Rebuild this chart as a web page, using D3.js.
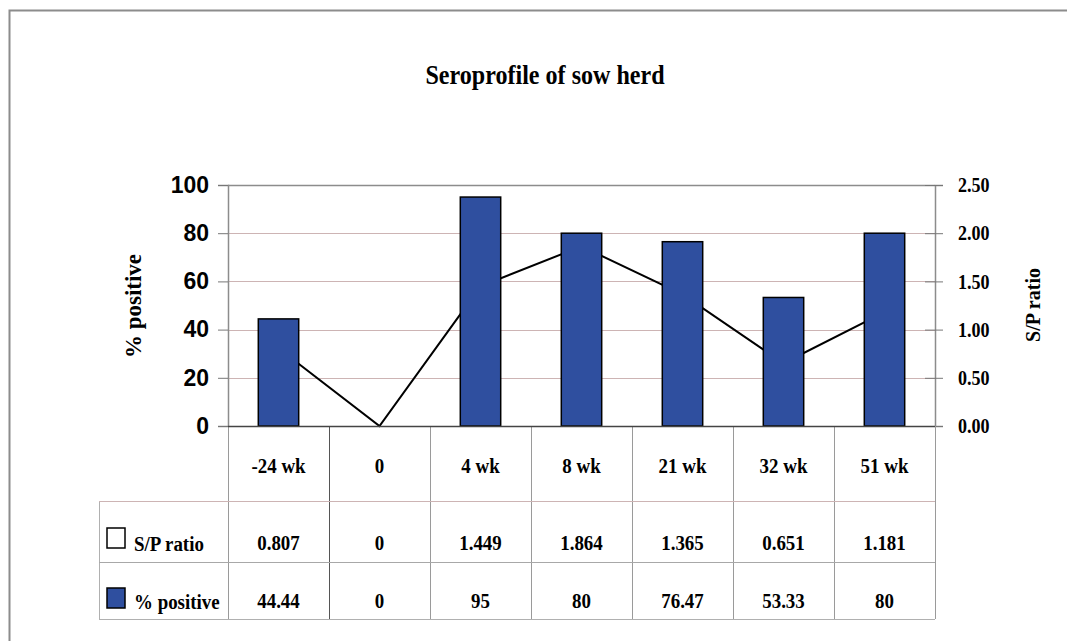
<!DOCTYPE html>
<html>
<head>
<meta charset="utf-8">
<script src="https://cdn.jsdelivr.net/npm/d3@7"></script>
<style>
  html, body { margin: 0; padding: 0; background: #fff; }
  svg { display: block; }
  .serif { font-family: "Liberation Serif", "Times New Roman", serif; font-weight: bold; }
  .sans { font-family: "Liberation Sans", Arial, sans-serif; font-weight: bold; }
</style>
</head>
<body>
<svg id="chart" width="1067" height="641"></svg>
<script>
// Sampling points and measured series
const categories = ["-24 wk", "0", "4 wk", "8 wk", "21 wk", "32 wk", "51 wk"];
const spRatio = [0.807, 0, 1.449, 1.864, 1.365, 0.651, 1.181];
const pctPositive = [44.44, 0, 95, 80, 76.47, 53.33, 80];
const spLabels = ["0.807", "0", "1.449", "1.864", "1.365", "0.651", "1.181"];
const pctLabels = ["44.44", "0", "95", "80", "76.47", "53.33", "80"];
const leftTicks = [0, 20, 40, 60, 80, 100];
const rightTicks = [0, 0.5, 1, 1.5, 2, 2.5];

const W = 1067, H = 641;
const plot = { left: 228, right: 935, top: 185, bottom: 426 };
const table = { left: 99, headerBottom: 501, row1Bottom: 562, bottom: 619 };
const barColor = "#2f4f9f";
const gridColor = "#cdb4b4";
const frameColor = "#8c8c8c";
const narrow = 0.86; // horizontal squeeze applied to the serif lettering

const svg = d3.select("#chart");

// serif label, horizontally condensed around its anchor point
function serifText(parent, x, y, text, size, anchor) {
  return parent.append("text").attr("class", "serif")
    .attr("transform", `translate(${x},${y}) scale(${narrow},1)`)
    .attr("text-anchor", anchor || "middle")
    .attr("font-size", size).text(text);
}

// outer frame (top and left edges)
svg.append("path")
  .attr("d", `M9.5,${H} V10.5 H${W}`)
  .attr("fill", "none").attr("stroke", frameColor).attr("stroke-width", 2);

// title
serifText(svg, 545, 84, "Seroprofile of sow herd", 28);

const x = d3.scaleBand().domain(categories).range([plot.left, plot.right]).padding(0);
const yL = d3.scaleLinear().domain([0, 100]).range([plot.bottom, plot.top]);
const yR = d3.scaleLinear().domain([0, 2.5]).range([plot.bottom, plot.top]);
const barW = x.bandwidth() * 0.4;

// horizontal gridlines
svg.append("g").selectAll("line")
  .data(leftTicks.filter(t => t > 0 && t < 100))
  .join("line")
  .attr("x1", plot.left).attr("x2", plot.right)
  .attr("y1", d => Math.round(yL(d)) + 0.5).attr("y2", d => Math.round(yL(d)) + 0.5)
  .attr("stroke", gridColor).attr("stroke-width", 1);

// top border of plot area
svg.append("line")
  .attr("x1", plot.left).attr("x2", plot.right)
  .attr("y1", plot.top + 0.5).attr("y2", plot.top + 0.5)
  .attr("stroke", frameColor).attr("stroke-width", 1.5);

// S/P ratio line (drawn beneath the bars)
const line = d3.line()
  .x((d, i) => x(categories[i]) + x.bandwidth() / 2)
  .y(d => yR(d));
svg.append("path")
  .datum(spRatio)
  .attr("d", line)
  .attr("fill", "none").attr("stroke", "#000").attr("stroke-width", 2);

// % positive bars
svg.append("g").selectAll("rect")
  .data(pctPositive)
  .join("rect")
  .attr("x", (d, i) => x(categories[i]) + (x.bandwidth() - barW) / 2)
  .attr("y", d => yL(d))
  .attr("width", barW)
  .attr("height", d => yL(0) - yL(d))
  .attr("fill", barColor)
  .attr("stroke", "#000").attr("stroke-width", 1.5);

// left axis
const axL = svg.append("g").attr("transform", `translate(${plot.left},0)`)
  .call(d3.axisLeft(yL).tickValues(leftTicks).tickSize(10).tickPadding(9).tickFormat(d3.format("d")));
axL.select(".domain").attr("stroke", frameColor).attr("stroke-width", 1.5);
axL.selectAll(".tick line").attr("stroke", "#777");
axL.selectAll(".tick text").attr("class", "sans").attr("font-size", 23).attr("fill", "#000");

// right axis with ticks crossing the axis line
const axR = svg.append("g").attr("transform", `translate(${plot.right},0)`)
  .call(d3.axisRight(yR).tickValues(rightTicks).tickSize(8).tickPadding(15).tickFormat(d3.format(".2f")));
axR.select(".domain").attr("stroke", frameColor).attr("stroke-width", 1.5);
axR.selectAll(".tick line").attr("x1", -10).attr("stroke", "#777");
axR.selectAll(".tick text").attr("class", "serif").attr("font-size", 21).attr("fill", "#000")
  .attr("x", 0).attr("transform", `translate(23,0) scale(${narrow},1)`);

// axis titles
svg.append("text").attr("class", "serif")
  .attr("transform", "translate(133,306) rotate(-90)")
  .attr("text-anchor", "middle").attr("dominant-baseline", "central")
  .attr("font-size", 23).text("% positive");
svg.append("text").attr("class", "serif")
  .attr("transform", "translate(1033,305) rotate(-90)")
  .attr("text-anchor", "middle").attr("dominant-baseline", "central")
  .attr("font-size", 20).text("S/P ratio");

// data table beneath the plot
const tg = svg.append("g");
const bounds = categories.map(c => x(c)).concat([plot.right]);
tg.selectAll("line.col")
  .data(bounds)
  .join("line").attr("class", "col")
  .attr("x1", d => Math.round(d) + 0.5).attr("x2", d => Math.round(d) + 0.5)
  .attr("y1", plot.bottom).attr("y2", table.bottom)
  .attr("stroke", (d, i) => i === 1 ? "#555" : "#9a9a9a").attr("stroke-width", 1);
tg.append("line")
  .attr("x1", table.left + 0.5).attr("x2", table.left + 0.5)
  .attr("y1", table.headerBottom).attr("y2", table.bottom)
  .attr("stroke", "#b0b0b0");
[[table.headerBottom, gridColor], [table.row1Bottom, "#a8a8a8"], [table.bottom, "#b0b0b0"]].forEach(([yy, col]) => {
  tg.append("line")
    .attr("x1", table.left).attr("x2", plot.right)
    .attr("y1", yy + 0.5).attr("y2", yy + 0.5)
    .attr("stroke", col).attr("stroke-width", 1.2);
});

// x axis baseline
svg.append("line")
  .attr("x1", plot.left).attr("x2", plot.right)
  .attr("y1", plot.bottom + 0.5).attr("y2", plot.bottom + 0.5)
  .attr("stroke", "#444").attr("stroke-width", 1.5);

const cx = c => x(c) + x.bandwidth() / 2;
categories.forEach((c, i) => {
  serifText(tg, cx(c), 473, c, 22);
  serifText(tg, cx(c), 550, spLabels[i], 22);
  serifText(tg, cx(c), 608, pctLabels[i], 22);
});

// legend keys inside the table
tg.append("rect").attr("x", 107).attr("y", 528).attr("width", 18).attr("height", 20)
  .attr("fill", "#fff").attr("stroke", "#000").attr("stroke-width", 1.5);
serifText(tg, 134, 551, "S/P ratio", 22, "start");
tg.append("rect").attr("x", 107).attr("y", 588).attr("width", 18).attr("height", 20)
  .attr("fill", barColor).attr("stroke", "#000").attr("stroke-width", 1.5);
serifText(tg, 134, 609, "% positive", 22, "start");
</script>
</body>
</html>
